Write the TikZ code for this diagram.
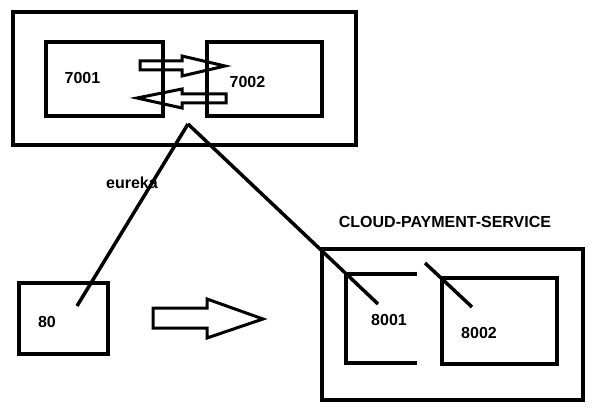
\documentclass[tikz,border=0pt]{standalone}
\usepackage{fontspec}
\setmainfont{Liberation Sans}

\begin{document}
\begin{tikzpicture}[x=1pt,y=-1pt,
    box/.style={draw,line width=4pt,inner sep=0pt,outer sep=0pt},
    lbl/.style={font=\bfseries\fontsize{16}{19}\selectfont,inner sep=0pt},
    wire/.style={line width=3.5pt},
    fatarrow/.style={draw,line width=3pt,line join=miter}]
      % \draw[help lines] (0,0) grid[step=20] (596,414);
      \useasboundingbox (0,0) rectangle (596,414);

      % eureka cluster
      \draw (184.5,78.5) node[box,minimum width=343,minimum height=133] (eurekabox) {};
      \draw (104.5,79) node[box,minimum width=117,minimum height=74] (e7001) {};
      \draw (264.5,79) node[box,minimum width=115,minimum height=74] (e7002) {};
      \draw (82.5,78) node[lbl] (t7001) {7001};
      \draw (247.5,82) node[lbl] (t7002) {7002};
      \draw (132,183) node[lbl] (teureka) {eureka};

      \draw[fatarrow] (140,61) -- (182,61) -- (182,56) -- (225,66) -- (182,76) -- (182,70) -- (140,70) -- cycle;
      \draw[fatarrow] (226,94) -- (182,94) -- (182,89) -- (137,98) -- (182,108) -- (182,103) -- (226,103) -- cycle;

      % consumer
      \draw (63.5,318.5) node[box,minimum width=89,minimum height=71] (c80) {};
      \draw (47,322) node[lbl] (t80) {80};
      \draw[fatarrow] (153,308) -- (207,308) -- (207,299) -- (263,319) -- (207,338) -- (207,328) -- (153,328) -- cycle;

      % provider cluster
      \draw (445,222) node[lbl] (tservice) {CLOUD-PAYMENT-SERVICE};
      \draw (452.5,324.5) node[box,minimum width=261,minimum height=151] (servicebox) {};
      \draw[box] (417,274) -- (346,274) -- (346,363) -- (417,363);
      \draw (499.5,321) node[box,minimum width=115,minimum height=86] (p8002) {};
      \draw (389,320) node[lbl] (t8001) {8001};
      \draw (479,333) node[lbl] (t8002) {8002};

      \coordinate (apex) at (188,124);
      \coordinate (end80) at (77,306);
      \coordinate (end8001) at (378,304);
      \coordinate (tick1) at (425,263);
      \coordinate (tick2) at (472,307);

      \draw[wire] (apex) -- (end80);
      \draw[wire] (apex) -- (end8001);
      \draw[wire] (tick1) -- (tick2);
    \end{tikzpicture}
\end{document}
